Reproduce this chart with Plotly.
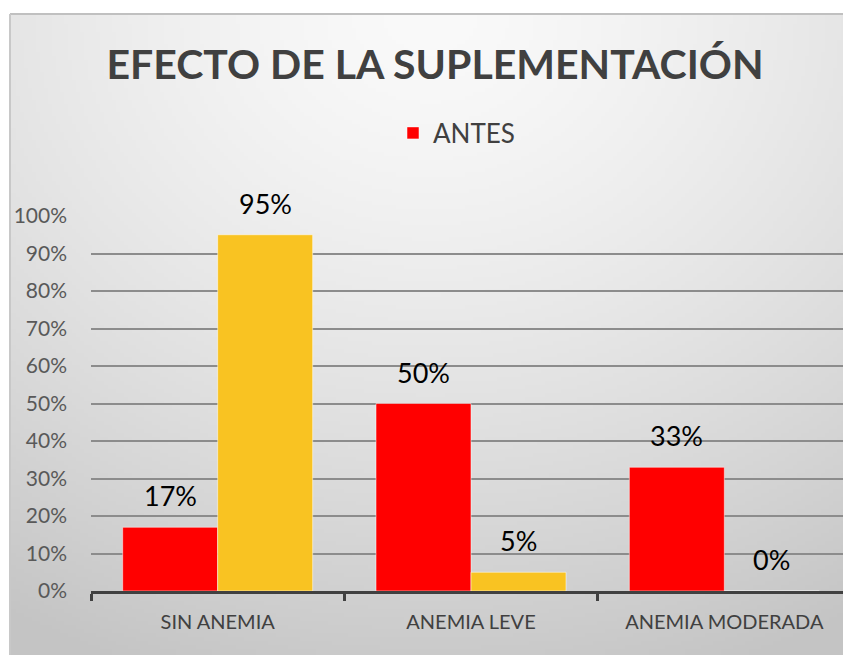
import base64, struct, zlib
import numpy as np
import plotly.graph_objects as go

# ---- data ----
categories = ["SIN ANEMIA", "ANEMIA LEVE", "ANEMIA MODERADA"]
antes = [0.17, 0.50, 0.33]
despues = [0.95, 0.05, 0.00]
series_names = ["ANTES", "DESPUÉS"]
y_ticks = [0, 0.1, 0.2, 0.3, 0.4, 0.5, 0.6, 0.7, 0.8, 0.9, 1.0]
y_tick_labels = ["0%", "10%", "20%", "30%", "40%", "50%", "60%", "70%", "80%", "90%", "100%"]
title_text = "EFECTO DE LA SUPLEMENTACIÓN"

# ---- layout geometry (page has an 8px body margin) ----
OFF = 8
W, H = 851 - OFF, 655 - OFF
ML, MR, MT, MB = 91 - OFF, 0, 216 - OFF, 64
PW, PH = W - ML - MR, H - MT - MB
BOX_X0, BOX_Y0 = 10 - OFF, 14 - OFF
BARGAP = 0.25
bar_px = PW / len(categories) * (1 - BARGAP) / 2

FONT = "Lato"

# ---- background gradient PNG ----
def make_png(arr):
    h, w, _ = arr.shape
    raw = b"".join(b"\x00" + arr[i].tobytes() for i in range(h))
    def chunk(t, d):
        c = struct.pack(">I", len(d)) + t + d
        return c + struct.pack(">I", zlib.crc32(t + d) & 0xffffffff)
    png = b"\x89PNG\r\n\x1a\n"
    png += chunk(b"IHDR", struct.pack(">IIBBBBB", w, h, 8, 2, 0, 0, 0))
    png += chunk(b"IDAT", zlib.compress(raw, 9))
    png += chunk(b"IEND", b"")
    return "data:image/png;base64," + base64.b64encode(png).decode()

gw, gh = 210, 160
yy, xx = np.mgrid[0:gh, 0:gw]
dx = (xx / (gw - 1) - 0.5) * 1.1
dy = (yy / (gh - 1)) * 1.0
r = np.sqrt(dx ** 2 + dy ** 2)
r = np.clip(r / 1.1, 0, 1)
light, dark = 250.0, 196.0
val = light - (light - dark) * r ** 1.4
img = np.stack([val, val, val], axis=-1).astype(np.uint8)
bg_src = make_png(img)

fig = go.Figure()
fig.add_trace(go.Bar(
    x=categories, y=antes, name=series_names[0],
    marker=dict(color="#FF0000", line=dict(color="rgba(255,255,255,0.5)", width=1)),
    showlegend=True,
))
fig.add_trace(go.Bar(
    x=categories, y=despues, name=series_names[1],
    marker=dict(color="#F9C322", line=dict(color="rgba(255,255,255,0.5)", width=1)),
    showlegend=False,
))

annotations = []
for vals, shift in ((antes, -bar_px / 2), (despues, bar_px / 2)):
    for c, v in zip(categories, vals):
        annotations.append(dict(
            x=c, y=v, xref="x", yref="y", text=f"{round(v * 100)}%",
            showarrow=False, xshift=shift, yshift=13, yanchor="bottom",
            font=dict(family=FONT, size=27, color="#000000"),
        ))

fig.update_layout(
    width=W, height=H,
    margin=dict(l=ML, r=MR, t=MT, b=MB, pad=0),
    paper_bgcolor="#FFFFFF",
    plot_bgcolor="rgba(0,0,0,0)",
    barmode="group", bargap=BARGAP, bargroupgap=0,
    title=dict(text=f"<b>{title_text}</b>", x=(435 - OFF) / W, xanchor="center",
               y=1 - (65 - OFF) / H, yanchor="middle", yref="container",
               font=dict(family=FONT, size=41, color="#404040")),
    legend=dict(orientation="h", x=(393 - OFF - ML) / PW, xanchor="left",
                y=(MT + PH - (133 - OFF)) / PH, yanchor="middle",
                font=dict(family=FONT, size=26, color="#404040"),
                bgcolor="rgba(0,0,0,0)"),
    xaxis=dict(showgrid=False, showline=True, linecolor="#404040", linewidth=3,
               ticks="outside", tickson="boundaries", ticklen=7, tickwidth=3,
               tickcolor="#404040", ticklabelstandoff=11,
               tickfont=dict(family=FONT, size=20, color="#404040")),
    yaxis=dict(range=[0, 1.0], tickvals=y_ticks, ticktext=y_tick_labels,
               showgrid=True, gridcolor="#8C8C8C", gridwidth=2,
               zeroline=False, showline=False, ticks="", ticklabelstandoff=23,
               tickfont=dict(family=FONT, size=21, color="#595959")),
    images=[dict(source=bg_src, xref="paper", yref="paper",
                 x=(BOX_X0 - ML) / PW, y=(MT + PH - BOX_Y0) / PH,
                 sizex=(W - BOX_X0) / PW, sizey=(H - BOX_Y0) / PH,
                 xanchor="left", yanchor="top", sizing="stretch", layer="below")],
    shapes=[
        dict(type="line", xref="paper", yref="paper",
             x0=(BOX_X0 - ML) / PW, x1=1.0 + 5 / PW,
             y0=(MT + PH - BOX_Y0) / PH, y1=(MT + PH - BOX_Y0) / PH,
             line=dict(color="#C0C0C0", width=2), layer="below"),
        dict(type="line", xref="paper", yref="paper",
             x0=(BOX_X0 - ML) / PW, x1=(BOX_X0 - ML) / PW,
             y0=(MT + PH - BOX_Y0) / PH, y1=-MB / PH - 0.01,
             line=dict(color="#C8C8C8", width=2), layer="below"),
    ],
    annotations=annotations,
)

fig.write_html("out.html")
